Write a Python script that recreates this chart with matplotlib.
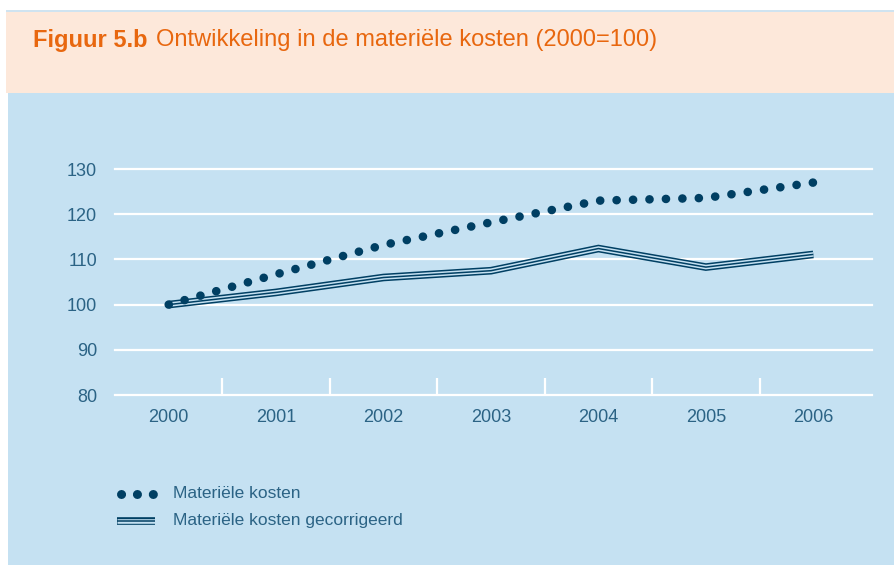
import numpy as np
import matplotlib.pyplot as plt
from matplotlib.patches import Rectangle
from matplotlib.lines import Line2D

jaren = ['2000', '2001', '2002', '2003', '2004', '2005', '2006']
materieel = [100, 106.7, 113.2, 118.2, 123.0, 123.6, 127.0]
gecorrigeerd = [100, 102.7, 106.0, 107.5, 112.4, 108.3, 111.1]
yticks = [80, 90, 100, 110, 120, 130]

peach = '#fde8da'
blauw = '#c5e1f2'
oranje = '#e8670f'
navy = '#003f63'
tekst = '#2b6385'

plt.rcParams['font.family'] = ['Liberation Sans', 'DejaVu Sans']

fig = plt.figure(figsize=(8.94, 5.65), dpi=100)
W, H = 894, 565

# achtergrondvlakken
fig.patches.append(Rectangle((6 / W, 1 - 93 / H), 1, 82 / H, transform=fig.transFigure,
                             facecolor=peach, edgecolor='none', zorder=-5))
fig.patches.append(Rectangle((6 / W, 1 - 12 / H), 1, 1.5 / H, transform=fig.transFigure,
                             facecolor='#cfe3f0', edgecolor='none', zorder=-5))
fig.patches.append(Rectangle((8 / W, 0), 1, 1 - 93 / H, transform=fig.transFigure,
                             facecolor=blauw, edgecolor='none', zorder=-5))

t1 = fig.text(33 / W, 1 - 40 / H, 'Figuur 5.b', color=oranje, fontsize=17, fontweight='bold',
              va='center')
fig.canvas.draw()
bb = t1.get_window_extent()
fig.text((bb.x1 + 8) / W, 1 - 40 / H, 'Ontwikkeling in de materiële kosten (2000=100)',
         color=oranje, fontsize=17, va='center')

ax = fig.add_axes([115 / W, 1 - 395 / H, 752 / W, 226 / H])
ax.set_zorder(2)
ax.set_facecolor('none')
x = np.arange(len(jaren))

ax.set_xlim(-0.5, 6.5)
ax.set_ylim(80, 130)
for v in yticks:
    ax.axhline(v, xmin=0, xmax=1.006, color='white', lw=1.6, zorder=1, clip_on=False)
for s in ax.spines.values():
    s.set_visible(False)

ax.set_yticks(yticks)
ax.set_yticklabels([str(v) for v in yticks], color=tekst, fontsize=13)
ax.tick_params(axis='y', length=0, pad=13)
ax.set_xticks(x)
ax.set_xticklabels(jaren, color=tekst, fontsize=13)
ax.tick_params(axis='x', which='major', length=0, pad=10)
ax.set_xticks(x[:-1] + 0.5, minor=True)
ax.tick_params(axis='x', which='minor', direction='in', length=12, width=1.6, color='white')

# gecorrigeerd: dubbele lijn
for kleur, dikte, z in [(navy, 5.5, 3), (blauw, 3.3, 4), (navy, 1.1, 5)]:
    ax.plot(x, gecorrigeerd, color=kleur, lw=dikte, zorder=z, clip_on=False,
            solid_joinstyle='miter', solid_capstyle='butt')

# materieel: stippellijn
ax.plot(x, materieel, color=navy, lw=6.2, linestyle=(0, (0.01, 1.9)), dash_capstyle='round',
        zorder=6, clip_on=False)

# legenda
fig.lines.append(Line2D([121 / W, 155 / W], [1 - 494 / H] * 2, transform=fig.transFigure,
                        color=navy, lw=6.5, linestyle=(0, (0.01, 1.75)), dash_capstyle='round'))
ly = 1 - 521 / H
for kleur, dikte in [(navy, 5.5), (blauw, 3.3), (navy, 1.1)]:
    fig.lines.append(Line2D([117 / W, 155 / W], [ly, ly], transform=fig.transFigure,
                            color=kleur, lw=dikte, solid_capstyle='butt'))
fig.text(173 / W, 1 - 493 / H, 'Materiële kosten', color=tekst, fontsize=12.5, va='center')
fig.text(173 / W, 1 - 521 / H, 'Materiële kosten gecorrigeerd', color=tekst, fontsize=12.5, va='center')

fig.savefig('out.png', dpi=100)
